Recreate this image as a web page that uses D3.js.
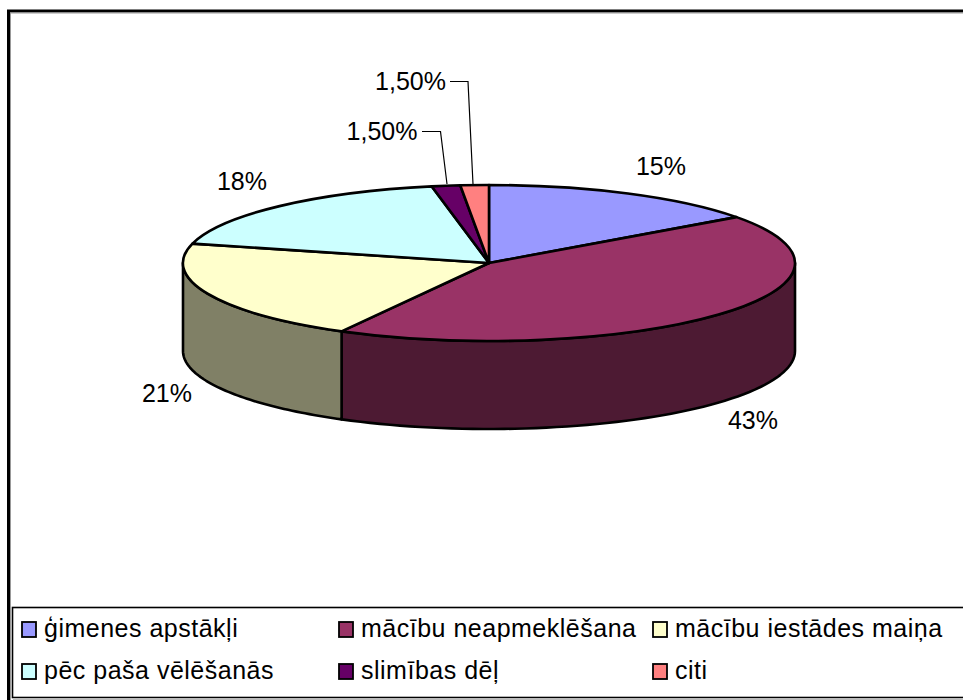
<!DOCTYPE html>
<html><head><meta charset="utf-8">
<style>html,body{margin:0;padding:0;background:#fff;overflow:hidden}svg{display:block}text{font-family:"Liberation Sans",Arial,sans-serif;fill:#000}</style>
<script src="https://cdn.jsdelivr.net/npm/d3@7/dist/d3.min.js"></script>
</head><body>
<svg id="c" width="963" height="700"></svg>
<script>
const categories=["ģimenes apstākļi","mācību neapmeklēšana","mācību iestādes maiņa","pēc paša vēlēšanās","slimības dēļ","citi"];
const values=[15,43,21,18,1.5,1.5];
const valueLabels=["15%","43%","21%","18%","1,50%","1,50%"];
const topColors=["#9999ff","#993366","#ffffcc","#ccffff","#660066","#ff8080"];
const sideColors=["#4c4c80","#4d1a33","#808066","#668080","#330033","#804040"];

const cx=489,cy=263,rx=306,ry=78,depth=88;
const svg=d3.select("#c");
const pie=d3.pie().sort(null).value(d=>d).startAngle(0).endAngle(2*Math.PI);
const arcs=pie(values);
const px=a=>cx+rx*Math.sin(a), py=a=>cy-ry*Math.cos(a);
const line=d3.line();

// chart frame (top and left edges only, as cropped in the picture)
svg.append("path").attr("d","M8.5 700V11H963").attr("fill","none").attr("stroke","#000").attr("stroke-width",3);
svg.append("path").attr("d","M10.5 700V13H963").attr("fill","none").attr("stroke","#999").attr("stroke-width",1);

// side walls: only the part of each slice facing the viewer (angles pi/2..3pi/2)
const front=svg.append("g").attr("stroke","#000").attr("stroke-width",2.6).attr("stroke-linejoin","round");
arcs.forEach((d,i)=>{
  const a0=Math.max(d.startAngle,Math.PI/2),a1=Math.min(d.endAngle,3*Math.PI/2);
  if(a1<=a0) return;
  const ts=d3.range(0,61).map(k=>a0+(a1-a0)*k/60);
  const pts=ts.map(t=>[px(t),py(t)]).concat(ts.slice().reverse().map(t=>[px(t),py(t)+depth]));
  front.append("path").attr("d",line(pts)+"Z").attr("fill",sideColors[i]);
});

// top face
const arc=d3.arc().innerRadius(0).outerRadius(1);
const topG=svg.append("g").attr("transform",`translate(${cx},${cy}) scale(${rx},${ry})`);
topG.selectAll("path").data(arcs).join("path")
  .attr("d",arc).attr("fill",(d,i)=>topColors[i])
  .attr("stroke","#000").attr("stroke-width",2.6).attr("stroke-linejoin","round")
  .attr("vector-effect","non-scaling-stroke");

// leader lines
const leaders=[null,null,null,null,[[422,131.5],[440.5,131.5],[447,184]],[[450,81.5],[468,81.5],[473,184]]];
const leaderG=svg.append("g").attr("fill","none").attr("stroke","#000").attr("stroke-width",1.2);
leaders.forEach(l=>{if(l) leaderG.append("path").attr("d",line(l));});

// value labels
const labelPos=[[661,166],[753,420],[167,393],[242,181],[382,131],[410.5,81]];
svg.append("g").selectAll("text").data(valueLabels).join("text")
  .attr("x",(d,i)=>labelPos[i][0]).attr("y",(d,i)=>labelPos[i][1])
  .attr("dy","0.35em").attr("text-anchor","middle").attr("font-size",25).text(d=>d);

// legend
svg.append("rect").attr("x",12.5).attr("y",607.5).attr("width",960).attr("height",90)
  .attr("fill","#fff").attr("stroke","#000").attr("stroke-width",1.6);
svg.append("path").attr("d","M13 699H963").attr("stroke","#bbb").attr("stroke-width",2);
const colX=[22,339,653], rowY=[629,671];
const lg=svg.append("g").selectAll("g").data(categories).join("g")
  .attr("transform",(d,i)=>`translate(${colX[i%3]},${rowY[Math.floor(i/3)]})`);
lg.append("rect").attr("x",0).attr("y",-7).attr("width",14).attr("height",15)
  .attr("fill",(d,i)=>topColors[i]).attr("stroke","#000").attr("stroke-width",1.8);
lg.append("text").attr("x",22).attr("dy","0.33em").attr("font-size",25).attr("letter-spacing",0.5).text(d=>d);
</script>
</body></html>
